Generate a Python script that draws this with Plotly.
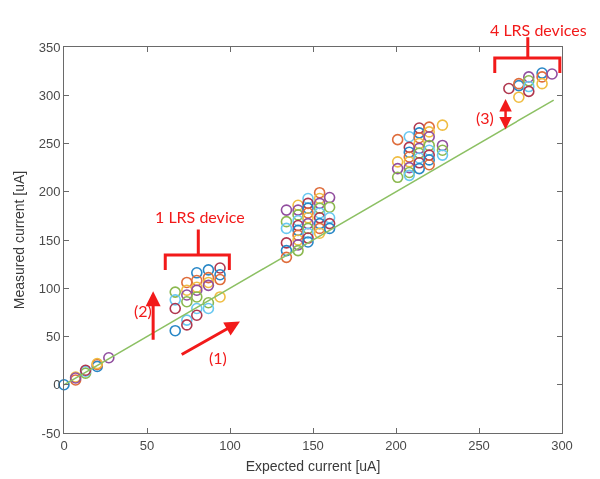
import plotly.graph_objects as go

# ---------------- data ----------------
expected_current = [
    0, 7, 7, 7, 13, 13, 13, 20, 20, 20, 27,
    67, 67, 67, 67,
    74, 74, 74, 74, 74, 74,
    80, 80, 80, 80, 80, 80, 80,
    87, 87, 87, 87, 87, 87,
    94, 94, 94, 94,
    134, 134, 134, 134, 134, 134,
    141, 141, 141, 141, 141, 141, 141, 141, 141, 141,
    147, 147, 147, 147, 147, 147, 147, 147, 147, 147,
    154, 154, 154, 154, 154, 154, 154, 154, 154,
    160, 160, 160, 160, 160,
    201, 201, 201, 201,
    208, 208, 208, 208, 208, 208, 208, 208,
    214, 214, 214, 214, 214, 214, 214, 214, 214,
    220, 220, 220, 220, 220, 220, 220, 220,
    228, 228, 228, 228,
    268, 274, 274, 274, 280, 280, 280, 280, 288, 288, 288, 294,
]
measured_current = [
    0, 5, 8, 7, 12, 14, 15, 19, 21, 22, 28,
    96, 88, 79, 56,
    106, 98, 93, 86, 67, 62,
    116, 108, 101, 98, 91, 79, 72,
    119, 111, 106, 103, 85, 79,
    121, 114, 109, 91,
    181, 169, 162, 147, 139, 132,
    186, 181, 176, 170, 165, 160, 155, 150, 145, 139,
    193, 188, 183, 178, 173, 167, 162, 157, 152, 148,
    199, 193, 188, 183, 178, 173, 167, 162, 157,
    194, 184, 173, 167, 162,
    254, 231, 224, 215,
    257, 246, 241, 236, 231, 225, 220, 217,
    266, 261, 256, 250, 245, 240, 235, 230, 224,
    267, 262, 257, 248, 243, 238, 233, 228,
    269, 248, 243, 238,
    307, 310, 312, 298, 319, 315, 309, 304, 323, 319, 312, 322,
]
ideal_x = [0, 295]
ideal_y = [0, 295]

x_ticks = [0, 50, 100, 150, 200, 250, 300]
y_ticks = [-50, 0, 50, 100, 150, 200, 250, 300, 350]
x_range = [0, 300]
y_range = [-50, 350]

palette = ['#0072BD', '#D95319', '#EDB120', '#7E2F8E', '#77AC30', '#4DBEEE', '#A2142F']
point_colors = [palette[i % len(palette)] for i in range(len(expected_current))]

RED = '#F21A1A'
TXT_FONT = dict(family='Lato, Open Sans, sans-serif', size=16, color=RED)
AX_FONT = 'Liberation Sans, Arial, sans-serif'


def yp(v):
    """data y -> paper y (for decorations above the axes)"""
    return (v - y_range[0]) / (y_range[1] - y_range[0])


fig = go.Figure()
fig.add_trace(go.Scatter(
    x=expected_current, y=measured_current, mode='markers',
    marker=dict(symbol='circle-open', size=10, color=point_colors,
                line=dict(width=1.6, color=point_colors)),
    opacity=0.85, showlegend=False, cliponaxis=False,
))
fig.add_trace(go.Scatter(
    x=ideal_x, y=ideal_y, mode='lines',
    line=dict(color='#8cc063', width=1.5), showlegend=False,
))

shapes = [
    # "1 LRS device" bracket
    dict(type='path', xref='x', yref='y',
         path='M 61 119 L 61 134.5 L 99.6 134.5 L 99.6 119 M 80.9 134.5 L 80.9 161',
         line=dict(color=RED, width=3)),
    # "4 LRS devices" bracket
    dict(type='path', xref='x', yref='paper',
         path=f'M 259.5 {yp(323)} L 259.5 {yp(338.5)} L 298.7 {yp(338.5)} L 298.7 {yp(323)} '
              f'M 279.4 {yp(338.5)} L 279.4 {yp(360)}',
         line=dict(color=RED, width=3)),
]

annotations = [
    dict(x=82, y=174, xref='x', yref='y', text='1 LRS device', showarrow=False, font=TXT_FONT),
    dict(x=286, y=yp(380), xref='x', yref='paper', text='4 LRS devices', showarrow=False, font=TXT_FONT),
    dict(x=47.5, y=77, xref='x', yref='y', text='(2)', showarrow=False, font=TXT_FONT),
    dict(x=93, y=28, xref='x', yref='y', text='(1)', showarrow=False, font=TXT_FONT),
    dict(x=253.5, y=277, xref='x', yref='y', text='(3)', showarrow=False, font=TXT_FONT),
    # arrows
    dict(x=53.7, y=97, ax=53.7, ay=45, xref='x', yref='y', axref='x', ayref='y', text='',
         showarrow=True, arrowhead=2, arrowsize=1, arrowwidth=3, arrowcolor=RED),
    dict(x=106, y=65.5, ax=70, ay=30.5, xref='x', yref='y', axref='x', ayref='y', text='',
         showarrow=True, arrowhead=2, arrowsize=1, arrowwidth=3, arrowcolor=RED),
    dict(x=266, y=296, ax=266, ay=263, xref='x', yref='y', axref='x', ayref='y', text='',
         showarrow=True, arrowhead=2, startarrowhead=2, arrowside='end+start',
         arrowsize=1, startarrowsize=1, arrowwidth=2.5, arrowcolor=RED),
]

axis_common = dict(
    showline=True, linecolor='#6a6a6a', linewidth=1, mirror='ticks',
    ticks='inside', ticklen=5, tickwidth=1, tickcolor='#6a6a6a',
    showgrid=False, zeroline=False, automargin=False,
    tickfont=dict(family=AX_FONT, size=13, color='#4a4a4a'),
)

# the page body adds an 8px offset, so the figure is 8px smaller than the window
fig.update_layout(
    width=592, height=471,
    margin=dict(l=56, r=38, t=39, b=46),
    paper_bgcolor='white', plot_bgcolor='white',
    shapes=shapes, annotations=annotations,
    xaxis=dict(range=x_range, tickvals=x_ticks, ticktext=[str(v) for v in x_ticks],
               title=dict(text='Expected current [uA]', standoff=9,
                          font=dict(family=AX_FONT, size=14, color='#3a3a3a')),
               **axis_common),
    yaxis=dict(range=y_range, tickvals=y_ticks, ticktext=[str(v) for v in y_ticks],
               title=dict(text='Measured current [uA]', standoff=10,
                          font=dict(family=AX_FONT, size=14, color='#3a3a3a')),
               **axis_common),
)

fig.write_html('out.html')
